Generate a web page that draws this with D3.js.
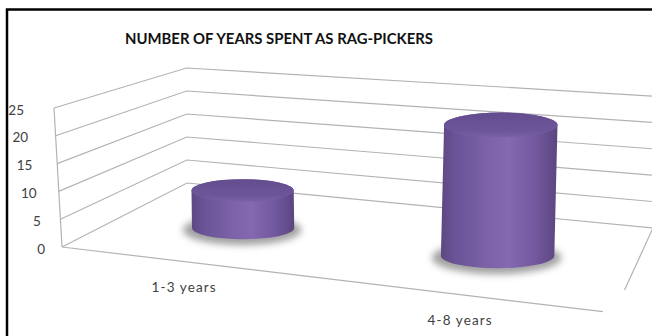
<!DOCTYPE html>
<html>
<head>
<meta charset="utf-8">
<script src="https://cdn.jsdelivr.net/npm/d3@7"></script>
<style>
  html, body { margin: 0; padding: 0; background: #fff; }
  svg { display: block; }
</style>
</head>
<body>
<div id="chart"></div>
<script>
// ---------------- data ----------------
const title = "NUMBER OF YEARS SPENT AS RAG-PICKERS";
const categories = ["1-3 years", "4-8 years"];
const values = [7, 22];
const yTicks = [0, 5, 10, 15, 20, 25];
const yMax = 25;

// ---------------- layout ----------------
const W = 652, H = 336;
const svg = d3.select("#chart").append("svg")
  .attr("width", W).attr("height", H)
  .attr("font-family", "Lato, 'Open Sans', sans-serif");

svg.append("rect").attr("width", W).attr("height", H).attr("fill", "#fff");

// Screen positions of the 8 corners of the 3D plot box (u: category axis, z: depth, v: value)
const corner = {
  "000": [62, 247],  "100": [614, 313],
  "010": [187, 183], "110": [653, 228],
  "001": [54, 108],  "101": [621, 132],
  "011": [186.5, 68],"111": [659, 96.5]
};

// world scales
const xBand = d3.scaleBand().domain(categories).range([-0.017, 0.983]);
const yVal = d3.scaleLinear().domain([0, yMax]).range([0, 1]);

// trilinear projection of normalized (u, z, v) onto the screen
function project(u, z, v) {
  const lerp = (a, b, t) => [a[0] + (b[0] - a[0]) * t, a[1] + (b[1] - a[1]) * t];
  const c = k => corner[k];
  const b0 = lerp(lerp(c("000"), c("100"), u), lerp(c("010"), c("110"), u), z);
  const b1 = lerp(lerp(c("001"), c("101"), u), lerp(c("011"), c("111"), u), z);
  return lerp(b0, b1, v);
}
const line = d3.line();

const defs = svg.append("defs");
const bodyGrad = defs.append("linearGradient").attr("id", "body")
  .attr("x1", "0%").attr("x2", "100%").attr("y1", "0%").attr("y2", "0%");
[["0%", "#5d4882"], ["12%", "#6a5396"], ["40%", "#7c62a8"], ["58%", "#8468b0"],
 ["80%", "#7359a0"], ["100%", "#5b4680"]].forEach(([o, c]) =>
  bodyGrad.append("stop").attr("offset", o).attr("stop-color", c));
const topGrad = defs.append("linearGradient").attr("id", "top")
  .attr("x1", "0%").attr("x2", "0%").attr("y1", "0%").attr("y2", "100%");
[["0%", "#644d8e"], ["70%", "#6c5599"], ["100%", "#7a61a6"]].forEach(([o, c]) =>
  topGrad.append("stop").attr("offset", o).attr("stop-color", c));
const blur = defs.append("filter").attr("id", "blur")
  .attr("x", "-30%").attr("y", "-60%").attr("width", "160%").attr("height", "220%");
blur.append("feGaussianBlur").attr("stdDeviation", 3.5);

// ---------------- frame ----------------
svg.append("rect")
  .attr("x", 7).attr("y", 9.5).attr("width", 720).attr("height", 420)
  .attr("fill", "none").attr("stroke", "#000").attr("stroke-width", 2.5);

// ---------------- title ----------------
svg.append("text")
  .attr("x", 279).attr("y", 44)
  .attr("text-anchor", "middle")
  .attr("font-size", 15.5).attr("font-weight", "bold").attr("fill", "#111")
  .attr("textLength", 308).attr("lengthAdjust", "spacingAndGlyphs")
  .text(title);

// ---------------- walls & gridlines ----------------
const grid = svg.append("g").attr("fill", "none").attr("stroke", "#b3b3b3").attr("stroke-width", 1.2);
yTicks.forEach(t => {
  const v = yVal(t);
  grid.append("path").attr("d", line([project(0, 0, v), project(0, 1, v), project(1, 1, v)]));
});
// left wall front edge
grid.append("path").attr("d", line([project(0, 0, 0), project(0, 0, 1)]));
// floor front and right edges
grid.append("path").attr("d", line([project(0, 0, 0), project(0.98, 0, 0)]));
grid.append("path").attr("d", line([project(1, 1, 0), project(1, 0.27, 0)]));

// ---------------- axis labels ----------------
const labelOffset = d3.scaleLinear().domain([0, yMax]).range([17, 30]);
svg.append("g").selectAll("text").data(yTicks).join("text")
  .attr("x", d => project(0, 0, yVal(d))[0] - labelOffset(d))
  .attr("y", d => project(0, 0, yVal(d))[1] + 6.5)
  .attr("text-anchor", "end")
  .attr("font-size", 13.5).attr("fill", "#404040")
  .text(d => d);

svg.append("g").selectAll("text").data(categories).join("text")
  .attr("x", d => project(xBand(d) + xBand.bandwidth() / 2, 0, 0)[0] - 7)
  .attr("y", d => project(xBand(d) + xBand.bandwidth() / 2, 0, 0)[1] + 29.5)
  .attr("text-anchor", "middle")
  .attr("font-size", 13.5).attr("fill", "#404040")
  .attr("textLength", 64).attr("lengthAdjust", "spacing")
  .text(d => d);

// ---------------- cylinders ----------------
const bars = categories.map((c, i) => {
  const u = xBand(c) + xBand.bandwidth() / 2;
  const b = project(u, 0.5, 0);
  const t = project(u, 0.5, yVal(values[i]));
  const full = project(u, 0.5, 1);
  const scaleH = b[1] - full[1];
  const rx = 0.382 * scaleH;
  const ry = 0.22 * rx;
  return { c, b, t, rx, ry };
});

const g = svg.append("g");
bars.forEach(d => {
  g.append("ellipse")
    .attr("cx", d.b[0] - 1).attr("cy", d.b[1] + 2)
    .attr("rx", d.rx + 8).attr("ry", d.ry + 4)
    .attr("fill", "#444").attr("opacity", 0.5)
    .attr("filter", "url(#blur)");
});
bars.forEach(d => {
  const { b, t, rx, ry } = d;
  const p = `M${t[0] - rx},${t[1]} L${b[0] - rx},${b[1]} ` +
            `A${rx},${ry} 0 0 0 ${b[0] + rx},${b[1]} ` +
            `L${t[0] + rx},${t[1]} A${rx},${ry} 0 0 0 ${t[0] - rx},${t[1]} Z`;
  g.append("path").attr("d", p).attr("fill", "url(#body)");
  g.append("ellipse")
    .attr("cx", t[0]).attr("cy", t[1]).attr("rx", rx).attr("ry", ry)
    .attr("fill", "url(#top)");
});
</script>
</body>
</html>
